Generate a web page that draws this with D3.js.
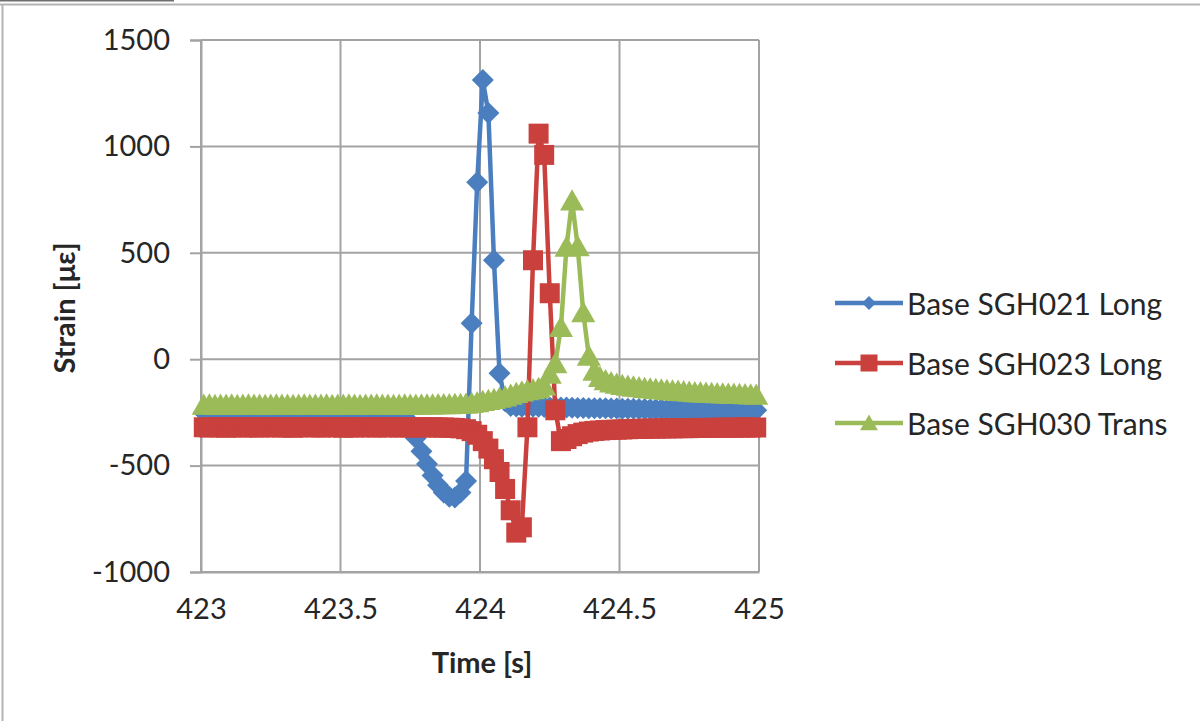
<!DOCTYPE html>
<html>
<head>
<meta charset="utf-8">
<script src="https://cdn.jsdelivr.net/npm/d3@7"></script>
<style>
  html, body { margin: 0; padding: 0; background: #fff; }
  svg { display: block; }
  text { font-family: Lato, "Open Sans", "Liberation Sans", sans-serif; fill: #262626; }
</style>
</head>
<body>
<svg id="chart" width="1200" height="721"></svg>
<script>
// ---- Data ----
const times = [
  423.01,423.03,423.05,423.07,423.09,423.11,423.13,423.15,423.17,423.19,
  423.21,423.23,423.25,423.27,423.29,423.31,423.33,423.35,423.37,423.39,
  423.41,423.43,423.45,423.47,423.49,423.51,423.53,423.55,423.57,423.59,
  423.61,423.63,423.65,423.67,423.69,423.71,423.73,423.75,423.77,423.79,
  423.81,423.83,423.85,423.87,423.89,423.91,423.93,423.95,423.97,423.99,
  424.01,424.03,424.05,424.07,424.09,424.11,424.13,424.15,424.17,424.19,
  424.21,424.23,424.25,424.27,424.29,424.31,424.33,424.35,424.37,424.39,
  424.41,424.43,424.45,424.47,424.49,424.51,424.53,424.55,424.57,424.59,
  424.61,424.63,424.65,424.67,424.69,424.71,424.73,424.75,424.77,424.79,
  424.81,424.83,424.85,424.87,424.89,424.91,424.93,424.95,424.97,424.99
];

const sgh021Long = [
  -250,-251,-249,-250,-251,-250,-249,-250,-251,-250,
  -250,-249,-251,-250,-250,-249,-251,-250,-250,-249,
  -251,-250,-250,-249,-251,-250,-249,-250,-251,-250,
  -250,-251,-249,-250,-252,-256,-270,-305,-370,-432,
  -492,-547,-592,-626,-646,-650,-626,-572,169,832,
  1312,1157,465,-66,-198,-220,-222,-223,-222,-224,
  -224,-225,-226,-226,-227,-227,-228,-229,-229,-230,
  -230,-231,-231,-232,-232,-233,-233,-233,-234,-234,
  -235,-235,-235,-236,-236,-236,-237,-237,-237,-238,
  -238,-238,-238,-239,-239,-239,-240,-240,-240,-240
];

const sgh023Long = [
  -320,-321,-319,-320,-322,-320,-319,-321,-320,-320,
  -321,-320,-319,-320,-321,-320,-322,-320,-319,-320,
  -320,-321,-320,-319,-320,-322,-320,-321,-320,-319,
  -320,-321,-320,-320,-319,-321,-320,-320,-321,-320,
  -320,-320,-321,-321,-322,-323,-325,-329,-338,-355,
  -385,-420,-470,-530,-610,-710,-815,-790,-320,465,
  1060,960,310,-240,-385,-375,-362,-352,-345,-340,
  -337,-335,-333,-332,-331,-330,-329,-328,-327,-327,
  -326,-326,-325,-325,-325,-324,-324,-324,-323,-323,
  -323,-323,-322,-322,-322,-322,-321,-321,-321,-321
];

const sgh030Trans = [
  -215,-214,-216,-215,-215,-214,-216,-215,-214,-215,
  -215,-216,-215,-214,-215,-215,-216,-215,-214,-215,
  -215,-215,-214,-216,-215,-215,-214,-215,-216,-215,
  -215,-214,-215,-215,-216,-215,-214,-215,-215,-214,
  -214,-214,-213,-213,-213,-212,-212,-210,-207,-203,
  -198,-193,-188,-182,-176,-168,-160,-153,-147,-142,
  -136,-125,-70,-20,150,527,745,530,220,15,
  -55,-85,-100,-110,-117,-122,-126,-130,-133,-136,
  -139,-141,-144,-146,-148,-150,-152,-154,-156,-157,
  -159,-160,-161,-162,-163,-164,-165,-166,-167,-168
];

const seriesNames = ["Base SGH021 Long", "Base SGH023 Long", "Base SGH030 Trans"];
const seriesColors = ["#4a7ebf", "#c9403d", "#9bbb59"];
const seriesMarkers = ["diamond", "square", "triangle"];
const xTicks = [423, 423.5, 424, 424.5, 425];
const xTickLabels = ["423", "423.5", "424", "424.5", "425"];
const yTicks = [-1000, -500, 0, 500, 1000, 1500];
const yTickLabels = ["-1000", "-500", "0", "500", "1000", "1500"];
const xTitle = "Time [s]";
const yTitle = "Strain [\u03bc\u03b5]";

// ---- Chart ----
const svg = d3.select("#chart");
const x = d3.scaleLinear().domain([423, 425]).range([201, 759]);
const y = d3.scaleLinear().domain([-1000, 1500]).range([572, 40]);
const gridColor = "#a3a3a3";

// outer frame
svg.append("line").attr("x1", 0).attr("x2", 1200).attr("y1", 4.5).attr("y2", 4.5)
  .attr("stroke", "#b4b4b4").attr("stroke-width", 2);
svg.append("line").attr("x1", 2.5).attr("x2", 2.5).attr("y1", 4).attr("y2", 721)
  .attr("stroke", "#b4b4b4").attr("stroke-width", 2);
svg.append("line").attr("x1", 0).attr("x2", 174).attr("y1", 0.5).attr("y2", 0.5)
  .attr("stroke", "#6e6e6e").attr("stroke-width", 2);

// gridlines
const grid = svg.append("g");
grid.selectAll("line.h").data(yTicks).join("line").attr("class", "h")
  .attr("x1", x(423)).attr("x2", x(425))
  .attr("y1", d => y(d)).attr("y2", d => y(d))
  .attr("stroke", gridColor).attr("stroke-width", 2);
grid.selectAll("line.v").data(xTicks).join("line").attr("class", "v")
  .attr("x1", d => x(d)).attr("x2", d => x(d))
  .attr("y1", y(1500)).attr("y2", y(-1000))
  .attr("stroke", gridColor).attr("stroke-width", 2);

// y axis
const yAxis = d3.axisLeft(y).tickValues(yTicks).tickSize(11).tickPadding(20)
  .tickFormat((d, i) => yTickLabels[i]);
const gy = svg.append("g").attr("transform", `translate(${x(423)},0)`).call(yAxis);
gy.select(".domain").attr("stroke", gridColor).attr("stroke-width", 2);
gy.selectAll(".tick line").attr("stroke", gridColor).attr("stroke-width", 2);
gy.selectAll(".tick text").style("font-size", "29px").attr("fill", "#262626");

// x axis
const xAxis = d3.axisBottom(x).tickValues(xTicks).tickSize(0).tickPadding(26)
  .tickFormat((d, i) => xTickLabels[i]);
const gx = svg.append("g").attr("transform", `translate(0,${y(-1000)})`).call(xAxis);
gx.select(".domain").attr("stroke", gridColor).attr("stroke-width", 2);
gx.selectAll(".tick text").style("font-size", "29px").attr("fill", "#262626");

// titles
svg.append("text").attr("x", 482).attr("y", 673).attr("text-anchor", "middle")
  .style("font-size", "29px").style("font-weight", "bold").text(xTitle);
svg.append("text").attr("transform", "translate(75,308) rotate(-90)").attr("text-anchor", "middle")
  .style("font-size", "29px").style("font-weight", "bold").text(yTitle);

// marker shapes
function markerPath(type, s) {
  if (type === "diamond") return `M0,${-s}L${s},0L0,${s}L${-s},0Z`;
  if (type === "square") return `M${-s},${-s}H${s}V${s}H${-s}Z`;
  return `M0,${-s}L${s * 1.05},${s * 0.85}L${-s * 1.05},${s * 0.85}Z`;
}
const markerSize = { diamond: 11, square: 10, triangle: 11.5 };

const seriesValues = [sgh021Long, sgh023Long, sgh030Trans];
const line = d3.line().x(d => x(d[0])).y(d => y(d[1]));

seriesValues.forEach((vals, i) => {
  const pts = times.map((t, j) => [t, vals[j]]);
  const g = svg.append("g");
  g.append("path").attr("d", line(pts)).attr("fill", "none")
    .attr("stroke", seriesColors[i]).attr("stroke-width", 4.5).attr("stroke-linejoin", "round");
  g.selectAll("path.m").data(pts).join("path").attr("class", "m")
    .attr("transform", d => `translate(${x(d[0])},${y(d[1])})`)
    .attr("d", markerPath(seriesMarkers[i], markerSize[seriesMarkers[i]]))
    .attr("fill", seriesColors[i]);
});

// legend
const legendRows = [303, 363, 423];
const lg = svg.append("g");
seriesNames.forEach((name, i) => {
  const yy = legendRows[i];
  lg.append("line").attr("x1", 835).attr("x2", 903).attr("y1", yy).attr("y2", yy)
    .attr("stroke", seriesColors[i]).attr("stroke-width", 4.5);
  const ms = { diamond: 7, square: 8.5, triangle: 8.5 }[seriesMarkers[i]];
  lg.append("path").attr("transform", `translate(869,${yy})`)
    .attr("d", markerPath(seriesMarkers[i], ms)).attr("fill", seriesColors[i]);
  lg.append("text").attr("x", 907).attr("y", yy + 12).style("font-size", "30px").text(name);
});
</script>
</body>
</html>
